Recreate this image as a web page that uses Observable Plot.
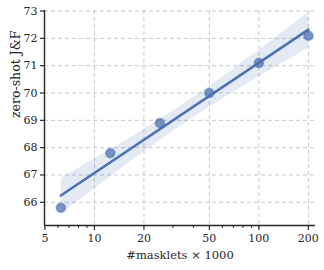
<!DOCTYPE html>
<html>
<head>
<meta charset="utf-8">
<script src="https://cdn.jsdelivr.net/npm/d3@7"></script>
<script src="https://cdn.jsdelivr.net/npm/@observablehq/plot@0.6"></script>
<style>
  html, body { margin: 0; padding: 0; background: #fff; }
  #chart svg { display: block; }
</style>
</head>
<body>
<div id="chart"></div>
<script>
const masklets = [6.25, 12.5, 25, 50, 100, 200];
const scores = [65.8, 67.8, 68.9, 70.0, 71.1, 72.1];
const xMajorTicks = [5, 10, 20, 50, 100, 200];
const xMinorTicks = [6, 7, 8, 9, 30, 40, 60, 70, 80, 90];
const yTicks = [66, 67, 68, 69, 70, 71, 72, 73];
const xDomain = [4.97, 221];
const yDomain = [65.15, 73.02];

const data = masklets.map((m, i) => ({m, s: scores[i]}));
const blue = "#4c72b0";
const font = "DejaVu Serif";

const plot = Plot.plot({
  width: 324,
  height: 270,
  marginLeft: 44,
  marginRight: 9,
  marginTop: 10,
  marginBottom: 45,
  style: {fontFamily: font, fontSize: "11px", color: "#262626", background: "#fff"},
  x: {type: "log", domain: xDomain},
  y: {domain: yDomain},
  marks: [
    Plot.gridX(xMajorTicks.slice(1), {stroke: "#c8c8c8", strokeOpacity: 1, strokeWidth: 1, strokeDasharray: "4,3"}),
    Plot.gridY(yTicks, {stroke: "#c8c8c8", strokeOpacity: 1, strokeWidth: 1, strokeDasharray: "4,3"}),
    Plot.linearRegressionY(data, {x: "m", y: "s", stroke: blue, strokeWidth: 2.6, fill: blue, fillOpacity: 0.15, ci: 0.95}),
    Plot.dot(data, {x: "m", y: "s", r: 4.6, fill: blue, fillOpacity: 0.75, stroke: blue, strokeOpacity: 0.5}),
    Plot.ruleX([xDomain[0]], {stroke: "#262626", strokeWidth: 1.4}),
    Plot.ruleY([yDomain[0]], {stroke: "#262626", strokeWidth: 1.4}),
    Plot.axisY(yTicks, {tickSize: 4, tickPadding: 3, strokeWidth: 1.2, fontSize: 11, label: null}),
    Plot.axisX(xMajorTicks, {tickSize: 5, strokeWidth: 1.2, text: null, label: null}),
    Plot.axisX(xMinorTicks, {tickSize: 3, strokeWidth: 1, text: null, label: null}),
    Plot.text(xMajorTicks, {x: d => d, text: d => String(d), frameAnchor: "bottom", dy: 16, fontSize: 11, fill: "#262626"}),
    Plot.text(["#masklets × 1000"], {frameAnchor: "bottom", dy: 33, fontSize: 11.5, fill: "#262626"}),
    Plot.text(["zero-shot J&F"], {frameAnchor: "left", dx: -29, rotate: -90, fontSize: 12.5, fill: "#262626"})
  ]
});
document.getElementById("chart").appendChild(plot);
</script>
</body>
</html>
